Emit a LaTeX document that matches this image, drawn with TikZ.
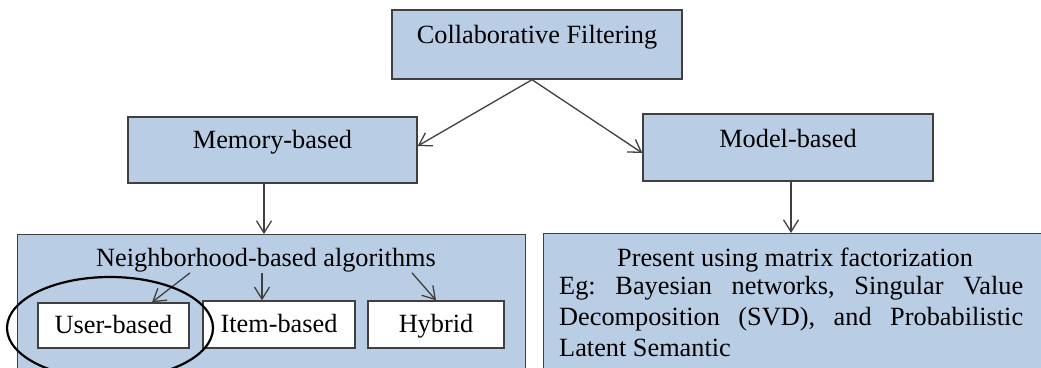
\documentclass[tikz,border=0pt]{standalone}
\usepackage{fontspec}
\setmainfont{Liberation Serif}
\usetikzlibrary{arrows.meta,shapes.geometric}
\definecolor{boxblue}{HTML}{B9CDE5}
\definecolor{edgegray}{HTML}{404040}
\begin{document}
\begin{tikzpicture}[x=1pt, y=-1pt,
  font=\fontsize{26.3}{31}\selectfont,
  box/.style={draw=edgegray, fill=boxblue, line width=1.4pt, inner sep=0pt},
  sub/.style={draw=edgegray, fill=white, line width=1.4pt, inner sep=0pt},
  arr/.style={draw=edgegray, line width=1.3pt, -{Straight Barb[length=12pt,width=15pt]}},
  ring/.style={draw=black, line width=2.2pt, ellipse, inner sep=0pt}]
  % page frame
  \clip (0,0) rectangle (1041,367);
  \fill[white] (0,0) rectangle (1041,367);

  % top level
  \node[box, minimum width=290pt, text height=33pt, text depth=36pt, anchor=base]
    (cf) at (537,43) {Collaborative Filtering};

  % second level
  \node[box, minimum width=289pt, text height=31pt, text depth=35pt, anchor=base]
    (mem) at (272.5,148) {Memory-based};
  \node[box, minimum width=290pt, text height=33pt, text depth=34pt, anchor=base]
    (mod) at (788,147) {Model-based};

  % lower panels
  \node[box, minimum width=508pt, minimum height=200pt, anchor=north west]
    (nbr) at (17,234) {};
  \node[box, minimum width=560pt, minimum height=200pt, anchor=north west]
    (pmf) at (543,233) {};

  % neighborhood-based panel
  \node[anchor=base, inner sep=1pt] (nbt) at (266,266) {Neighborhood-based algorithms};
  \node[sub, minimum width=151pt, text height=30pt, text depth=15pt, anchor=base]
    (user) at (113.5,333) {User-based};
  \node[sub, minimum width=152pt, text height=31pt, text depth=16pt, anchor=base]
    (item) at (279,332) {Item-based};
  \node[sub, minimum width=136pt, text height=31pt, text depth=16pt, anchor=base]
    (hyb) at (436,332) {Hybrid};

  % matrix factorization panel
  \node[anchor=base, inner sep=0pt] (pmt) at (795,266) {Present using matrix factorization};
  \node[anchor=north west, text width=464pt, align=justify, inner sep=0pt]
    (pmx) at (559,276)
    {\frenchspacing Eg: Bayesian networks, Singular Value\linebreak
     Decomposition (SVD), and Probabilistic\linebreak
     Latent Semantic};

  % connectors
  \draw[arr] ([xshift=-5pt]cf.south) -- ([yshift=4pt]mem.east);
  \draw[arr] ([xshift=-5pt]cf.south) -- ([yshift=-5.5pt]mod.west);
  \coordinate (m1) at ([xshift=-8.5pt]mem.south);
  \draw[arr] (m1) -- (m1 |- nbr.north);
  \coordinate (m2) at ([xshift=3pt]mod.south);
  \draw[arr] (m2) -- (m2 |- pmf.north);
  \draw[arr] ([xshift=-76pt]nbt.south) -- ([xshift=38.5pt]user.north);
  \draw[arr] ([xshift=-4pt]nbt.south) -- ([xshift=-17pt]item.north);
  \draw[arr] ([xshift=146pt]nbt.south) -- (hyb.north);

  % highlight around the user-based box
  \node[ring, minimum width=206pt, minimum height=102pt] (hl) at (110,328) {};
\end{tikzpicture}
\end{document}
